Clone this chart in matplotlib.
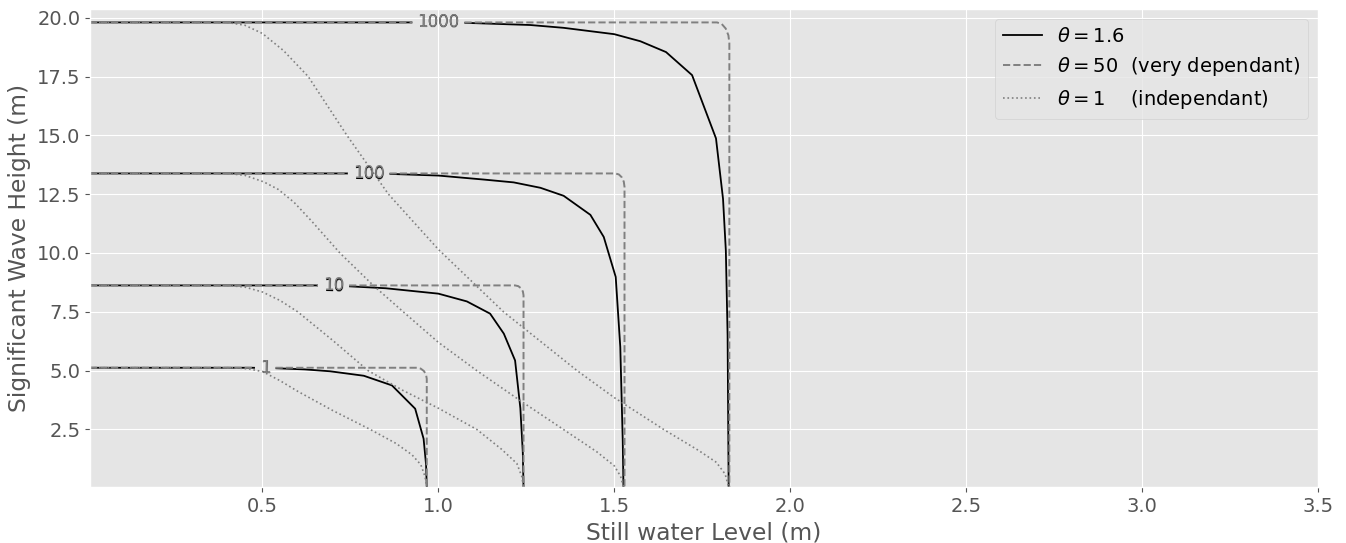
import matplotlib
matplotlib.use('Agg')
import matplotlib.pyplot as plt
import numpy as np
from matplotlib.contour import ContourSet
from matplotlib.lines import Line2D

# return periods of the contour levels
return_periods = [1, 10, 100, 1000]

# theta = 1.6 (solid), one list per return period
swl_theta16 = [
    [0.01, 0.47, 0.537, 0.62, 0.692, 0.788, 0.868, 0.934, 0.958, 0.965, 0.967],
    [0.01, 0.65, 0.749, 0.85, 1.0, 1.081, 1.147, 1.186, 1.218, 1.233, 1.240, 1.242],
    [0.01, 0.74, 0.863, 1.0, 1.129, 1.214, 1.290, 1.356, 1.432, 1.470, 1.504, 1.517, 1.524, 1.526],
    [0.01, 0.92, 1.081, 1.261, 1.356, 1.5, 1.574, 1.647, 1.721, 1.789, 1.809, 1.817, 1.822, 1.825],
]
hs_theta16 = [
    [5.12, 5.12, 5.10, 5.05, 4.97, 4.78, 4.37, 3.38, 2.10, 1.00, 0.05],
    [8.62, 8.62, 8.58, 8.50, 8.27, 7.94, 7.42, 6.57, 5.43, 3.40, 1.50, 0.05],
    [13.38, 13.38, 13.36, 13.29, 13.12, 13.00, 12.77, 12.43, 11.62, 10.68, 8.98, 6.0, 2.0, 0.05],
    [19.80, 19.80, 19.78, 19.69, 19.57, 19.30, 19.00, 18.54, 17.56, 14.87, 12.30, 10.1, 6.5, 0.05],
]

# theta = 50 (dashed)
swl_theta50 = [
    [0.01, 0.939, 0.9497, 0.9588, 0.9649, 0.967, 0.967],
    [0.01, 1.218, 1.2272, 1.2350, 1.2402, 1.242, 1.242],
    [0.01, 1.503, 1.5130, 1.5214, 1.5270, 1.529, 1.529],
    [0.01, 1.792, 1.8054, 1.8167, 1.8243, 1.827, 1.827],
]
hs_theta50 = [
    [5.12, 5.12, 5.084, 4.982, 4.830, 4.65, 0.05],
    [8.62, 8.62, 8.588, 8.497, 8.361, 8.20, 0.05],
    [13.38, 13.38, 13.337, 13.213, 13.028, 12.81, 0.05],
    [19.80, 19.80, 19.732, 19.539, 19.251, 18.91, 0.05],
]

# theta = 1 (dotted)
swl_theta1 = [
    [0.01, 0.42, 0.46, 0.50, 0.55, 0.60, 0.70, 0.806, 0.88, 0.925, 0.95, 0.962, 0.967],
    [0.01, 0.40, 0.45, 0.50, 0.55, 0.60, 0.70, 0.80, 0.90, 1.0, 1.109, 1.18, 1.223, 1.237, 1.242],
    [0.01, 0.40, 0.45, 0.504, 0.545, 0.59, 0.64, 0.72, 0.815, 0.90, 1.0, 1.109, 1.23, 1.355, 1.45, 1.50, 1.518, 1.526],
    [0.01, 0.40, 0.45, 0.50, 0.56, 0.63, 0.74, 0.858, 1.0, 1.185, 1.394, 1.50, 1.64, 1.74, 1.79, 1.815, 1.825],
]
hs_theta1 = [
    [5.12, 5.12, 5.07, 4.96, 4.57, 4.12, 3.30, 2.50, 1.90, 1.42, 1.00, 0.50, 0.05],
    [8.62, 8.62, 8.55, 8.34, 7.98, 7.50, 6.28, 5.00, 4.15, 3.40, 2.50, 1.65, 1.05, 0.50, 0.05],
    [13.38, 13.38, 13.30, 13.02, 12.70, 12.15, 11.35, 10.00, 8.62, 7.50, 6.20, 5.00, 3.75, 2.50, 1.55, 0.95, 0.50, 0.05],
    [19.80, 19.80, 19.68, 19.33, 18.60, 17.50, 15.00, 12.50, 10.15, 7.50, 5.00, 3.85, 2.50, 1.60, 1.10, 0.60, 0.05],
]


def contour_from_lines(ax, swl, hs, **kw):
  segs = [[np.column_stack([x, y])] for x, y in zip(swl, hs)]
  return ContourSet(ax, return_periods, segs, **kw)


def joint_return_period_plot():
  plt.style.use('ggplot')
  plt.rcParams['font.size'] = 14
  fig = plt.figure(figsize=(13.46, 5.43), dpi=100)
  ax = fig.add_axes([0.0669, 0.1031, 0.9123, 0.8803])

  cs16 = contour_from_lines(ax, swl_theta16, hs_theta16, colors='k',
                            linestyles='solid', linewidths=1.3)
  cs50 = contour_from_lines(ax, swl_theta50, hs_theta50, colors='gray',
                            linestyles='dashed', linewidths=1.4)
  cs1 = contour_from_lines(ax, swl_theta1, hs_theta1, colors='gray',
                           linestyles='dotted', linewidths=1.2)

  ax.set_xlim(0.01, 3.5)
  ax.set_ylim(0.05, 20.37)
  ax.set_xlabel('Still water Level (m)')
  ax.set_ylabel('Significant Wave Height (m)')

  # label spots, one per return period
  spots = [(0.508, 5.12), (0.702, 8.62), (0.802, 13.38), (1.0, 19.80)]
  ax.clabel(cs16, inline=True, fontsize=12, fmt='%d', manual=spots)
  ax.clabel(cs50, inline=True, fontsize=12, fmt='%d', manual=spots)

  handles = [Line2D([], [], color='k', lw=1.3),
             Line2D([], [], color='gray', ls='--', lw=1.4),
             Line2D([], [], color='gray', ls=':', lw=1.2)]
  labels = [r'$\theta = 1.6$',
            r'$\theta = 50$  (very dependant)',
            r'$\theta = 1$    (independant)']
  ax.legend(handles, labels, loc='upper right')
  fig.savefig('out.png', dpi=100)


if __name__ == '__main__':
  joint_return_period_plot()
